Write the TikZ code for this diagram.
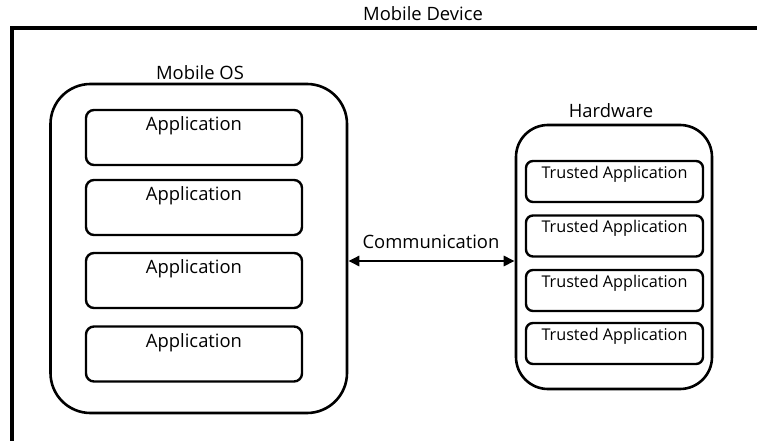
\documentclass[tikz,border=0pt]{standalone}
\usepackage{fontspec}
\setmainfont{Open Sans}
\usetikzlibrary{arrows.meta}
\begin{document}
\begin{tikzpicture}[x=1pt,y=-1pt,
  container/.style={draw,line width=2.6pt,rounded corners=#1,inner sep=0pt},
  appbox/.style={draw,line width=2.4pt,rounded corners=8pt,inner sep=0pt,
    minimum width=216pt,minimum height=55pt},
  tabox/.style={draw,line width=2.4pt,rounded corners=7pt,inner sep=0pt,
    minimum width=177pt,minimum height=41pt},
  lbl/.style={font=\fontsize{18.4}{21}\selectfont,inner sep=0pt},
  slbl/.style={font=\fontsize{16.2}{19}\selectfont,inner sep=0pt},
  link/.style={line width=2.6pt,{Triangle[length=11pt,width=10pt]}-{Triangle[length=11pt,width=10pt]}}
]
\useasboundingbox (0,0) rectangle (757,441);

% device frame, open to the right and bottom
\coordinate (devtl) at (12,28.5);
\draw[line width=4pt] (devtl |- 0,441) -- (devtl) -- (757,28.5);
\node[lbl] (devlabel) at (423,14) {Mobile Device};

% mobile OS with its applications
\node[container=40pt,minimum width=296.5pt,minimum height=329pt] (mos) at (198.75,248.5) {};
\node[lbl] (moslabel) at (200,73) {Mobile OS};
\foreach \i/\yc in {1/137.5,2/207.5,3/280.5,4/354}{
  \node[appbox] (app\i) at (194,\yc) {};
  \node[lbl,anchor=north] (applbl\i) at ([yshift=-8pt]app\i.north) {Application};
}

% hardware with its trusted applications
\node[container=32pt,minimum width=196pt,minimum height=264pt] (hw) at (614,257) {};
\node[lbl] (hwlabel) at (611,111) {Hardware};
\foreach \i/\yc in {1/181.5,2/236,3/290.5,4/343.5}{
  \node[tabox] (ta\i) at (614.5,\yc) {};
  \node[slbl,anchor=north] (talbl\i) at ([yshift=-6pt]ta\i.north) {Trusted Application};
}

% communication link
\coordinate (linky) at (0,261);
\draw[link] (mos.east |- linky) -- (hw.west |- linky);
\node[lbl] (commlabel) at (431,242) {Communication};
\end{tikzpicture}
\end{document}
